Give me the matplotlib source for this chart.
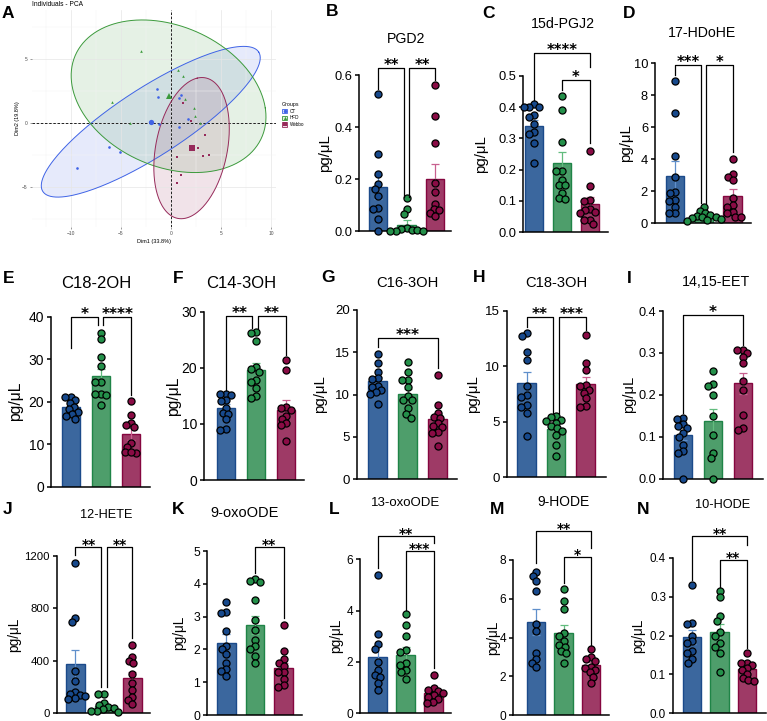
import numpy as np
import matplotlib.pyplot as plt
from matplotlib.patches import Patch
from matplotlib.lines import Line2D
from matplotlib.legend_handler import HandlerTuple
from matplotlib.ticker import FormatStrFormatter

plt.rcParams['font.family'] = ['Liberation Sans', 'DejaVu Sans']

W, H = 767, 721

# ---------------- panel A: PCA individuals ----------------
ct_x = [-1.4, -1.27, -1.2, 0.77, 1.03, 1.7, 0.77, -6.2, -5.07, -9.37]
ct_y = [2.66, 2.08, -0.05, 1.98, 2.19, 0.31, -0.31, -1.88, -2.24, -3.52]
hfd_x = [-3.03, 0.7, 1.23, 1.37, -5.87, 2.27, 2.37, -4.13, 2.9]
hfd_y = [5.68, 4.19, 3.72, 1.93, 1.69, 1.2, 0.55, 0.05, 0.0]
web_x = [1.23, 2.03, 3.4, 2.73, 3.77, 3.17, 0.57, 0.97, 0.63]
web_y = [1.59, 0.16, -0.91, -1.95, -2.45, -2.58, -2.63, -4.04, -4.64]
# ellipse semi-axis vectors (data units)
ct_ell = [(10.8, 5.44), (1.8, -2.25)]
hfd_ell = [(9.67, -0.91), (-1.17, 5.89)]
web_ell = [(0.57, 5.47), (3.73, 0.7)]
pca_groups = ['CT', 'HFD', 'Webbo']

# ---------------- bar panels ----------------
pgd2_ct = [0.526, 0.296, 0.219, 0.179, 0.16, 0.135, 0.09, 0.083, 0.045, 0.001]
pgd2_hfd = [0.126, 0.083, 0.064, 0.01, 0.006, 0.004, 0.002, 0.001, 0.0, 0.0]
pgd2_web = [0.562, 0.444, 0.34, 0.183, 0.151, 0.104, 0.083, 0.08, 0.068, 0.059]
pgd2_mean = [0.17, 0.023, 0.2]
pgd2_sem = [0.045, 0.018, 0.058]
pgd2_sig = [(0, 0.91, 0.626, 0.545, 0.132, '**'), (1.09, 2, 0.626, 0.132, 0.58, '**')]

pgj2_ct = [0.41, 0.40, 0.40, 0.40, 0.375, 0.37, 0.345, 0.32, 0.315, 0.285, 0.22]
pgj2_hfd = [0.436, 0.391, 0.29, 0.194, 0.194, 0.167, 0.151, 0.151, 0.125, 0.109, 0.107]
pgj2_web = [0.261, 0.149, 0.103, 0.1, 0.074, 0.07, 0.065, 0.06, 0.04, 0.04, 0.025]
pgj2_mean = [0.34, 0.22, 0.09]
pgj2_sem = [0.018, 0.035, 0.021]
pgj2_sig = [(0, 2, 0.573, 0.423, 0.53, '****'), (1, 2, 0.487, 0.455, 0.284, '*')]

hdohe_ct = [8.9, 6.9, 4.2, 2.85, 1.95, 1.85, 1.45, 1.4, 1.0, 0.65, 0.6]
hdohe_hfd = [1.0, 0.75, 0.65, 0.5, 0.45, 0.4, 0.35, 0.3, 0.25, 0.2, 0.15]
hdohe_web = [4.0, 3.05, 2.9, 2.7, 1.55, 1.1, 1.0, 0.7, 0.6, 0.4, 0.35]
hdohe_mean = [2.94, 0.48, 1.7]
hdohe_sem = [0.92, 0.08, 0.45]
hdohe_sig = [(0, 0.91, 9.875, 9.25, 1.25, '***'), (1.09, 2, 9.875, 1.25, 4.46, '*')]

c182_ct = [21.2, 21.0, 20.3, 19.6, 18.7, 18.2, 17.6, 17.0, 16.6, 16.0]
c182_hfd = [36.2, 34.7, 30.5, 28.5, 24.7, 24.5, 21.9, 21.7, 21.5, 19.2]
c182_web = [20.2, 16.8, 15.0, 14.5, 13.9, 10.2, 9.4, 8.1, 7.8, 8.2]
c182_mean = [18.65, 26.0, 12.4]
c182_sem = [0.6, 1.6, 1.35]
c182_sig = [(0, 0.9, 40, 32.6, 38, '*'), (1.08, 2, 40, 38, 21.5, '****')]

c143_ct = [15.4, 15.3, 15.2, 14.2, 14.0, 12.8, 12.0, 11.8, 10.9, 9.1, 9.0]
c143_hfd = [26.4, 26.2, 24.7, 20.1, 19.8, 19.3, 17.9, 17.5, 16.4, 15.0, 14.6]
c143_web = [21.4, 19.6, 13.0, 12.8, 12.5, 11.4, 10.8, 10.2, 9.8, 6.9]
c143_mean = [12.8, 19.6, 12.4]
c143_sem = [0.75, 1.3, 1.9]
c143_sig = [(0, 0.88, 29.2, 16.0, 27.1, '**'), (1.07, 2, 29.2, 27.1, 22.3, '**')]

c163_ct = [14.8, 13.7, 12.7, 11.9, 11.8, 11.0, 10.9, 10.5, 10.3, 10.1, 8.9]
c163_hfd = [13.9, 12.7, 11.7, 11.7, 10.85, 9.8, 9.35, 9.35, 8.35, 7.7, 7.25]
c163_web = [12.3, 8.8, 7.8, 7.3, 7.2, 6.6, 6.3, 6.2, 5.6, 5.5, 3.9]
c163_mean = [11.55, 10.05, 7.05]
c163_sem = [0.5, 0.6, 0.6]
c163_sig = [(0, 2, 16.72, 15.66, 13.1, '***')]

c183_ct = [13.0, 12.7, 11.3, 10.6, 8.2, 7.4, 7.2, 6.5, 6.3, 5.8, 3.7]
c183_hfd = [5.5, 5.4, 5.2, 5.1, 4.9, 4.6, 4.4, 4.2, 3.8, 2.9, 1.9]
c183_web = [12.8, 10.3, 9.7, 8.3, 8.2, 7.9, 7.6, 7.1, 6.4, 6.3]
c183_mean = [8.5, 4.32, 8.4]
c183_sem = [1.0, 0.33, 0.6]
c183_sig = [(0, 0.9, 14.47, 13.57, 5.77, '**'), (1.09, 2, 14.47, 5.77, 13.27, '***')]

eet_ct = [0.145, 0.143, 0.13, 0.125, 0.12, 0.11, 0.1, 0.08, 0.065, 0.062, 0.0]
eet_hfd = [0.256, 0.225, 0.22, 0.2, 0.15, 0.105, 0.062, 0.05, 0.0]
eet_web = [0.308, 0.307, 0.3, 0.29, 0.275, 0.232, 0.212, 0.152, 0.12, 0.115]
eet_mean = [0.103, 0.137, 0.227]
eet_sem = [0.012, 0.028, 0.025]
eet_sig = [(0, 2, 0.39, 0.156, 0.319, '*')]

hete_ct = [1150, 730, 700, 320, 245, 165, 150, 140, 130, 115, 110]
hete_hfd = [148, 145, 75, 60, 45, 40, 30, 20, 15, 10]
hete_web = [520, 430, 400, 380, 300, 230, 180, 125, 105, 70]
hete_mean = [374, 56, 267]
hete_sem = [110, 20, 50]
hete_sig = [(0, 0.91, 1266, 1207, 203, '**'), (1.09, 2, 1266, 203, 572, '**')]

oxo9_ct = [3.45, 3.15, 3.1, 2.55, 2.1, 2.0, 1.85, 1.6, 1.4, 1.35, 1.2]
oxo9_hfd = [4.15, 4.1, 4.05, 3.5, 2.9, 2.6, 2.3, 2.1, 2.0, 1.8, 1.6]
oxo9_web = [2.75, 1.95, 1.7, 1.6, 1.5, 1.3, 1.3, 1.1, 0.9, 0.85]
oxo9_mean = [2.2, 2.75, 1.42]
oxo9_sem = [0.26, 0.28, 0.17]
oxo9_sig = [(1, 2, 5.11, 4.32, 2.95, '**')]

oxo13_ct = [5.4, 3.1, 2.7, 2.5, 2.0, 1.7, 1.5, 1.4, 1.2, 0.9]
oxo13_hfd = [3.85, 3.45, 3.0, 2.45, 2.4, 1.95, 1.9, 1.7, 1.6, 1.35]
oxo13_web = [1.5, 0.98, 0.92, 0.85, 0.8, 0.7, 0.65, 0.55, 0.45, 0.4]
oxo13_mean = [2.21, 2.27, 0.8]
oxo13_sem = [0.43, 0.33, 0.1]
oxo13_sig = [(0, 2, 6.92, 5.65, 6.62, '**'), (1, 2, 6.33, 4.02, 1.75, '***')]

hode9_ct = [7.4, 7.15, 6.9, 6.4, 4.7, 4.35, 3.2, 2.9, 2.7, 2.5]
hode9_hfd = [6.5, 5.9, 5.45, 4.25, 4.1, 3.8, 3.6, 3.5, 3.3, 3.2, 2.7]
hode9_web = [3.4, 3.0, 2.9, 2.8, 2.5, 2.45, 2.3, 2.2, 1.95, 1.65]
hode9_mean = [4.8, 4.22, 2.58]
hode9_sem = [0.65, 0.42, 0.17]
hode9_sig = [(0, 2, 9.5, 7.83, 8.6, '**'), (1, 2, 8.14, 6.8, 3.61, '*')]

hode10_ct = [0.33, 0.233, 0.23, 0.2, 0.185, 0.18, 0.16, 0.155, 0.14, 0.13]
hode10_hfd = [0.315, 0.3, 0.25, 0.237, 0.21, 0.2, 0.18, 0.17, 0.155, 0.105]
hode10_web = [0.155, 0.13, 0.128, 0.125, 0.115, 0.11, 0.1, 0.09, 0.085, 0.083]
hode10_mean = [0.195, 0.209, 0.114]
hode10_sem = [0.018, 0.02, 0.007]
hode10_sig = [(0, 2, 0.458, 0.343, 0.434, '**'), (1, 2, 0.395, 0.326, 0.167, '**')]

# colours
bar_fill = ['#3B679E', '#4E9E6B', '#9E3A66']
bar_edge = ['#1B4A8A', '#1F8447', '#85063F']
dot_col = ['#17498C', '#24904A', '#8A0C45']
err_col = ['#5F8FCB', '#62BC7E', '#C8608F']
pca_col = ['#3F63E6', '#3C9A3C', '#962A5A']

fig = plt.figure(figsize=(W / 100, H / 100), dpi=100)


def px_axes(left, right, y0, ytop):
    return fig.add_axes([left / W, 1 - y0 / H, (right - left) / W, (y0 - ytop) / H])


def ftext(x, y, s, **kw):
    fig.text(x / W, 1 - y / H, s, **kw)


def swarm(vals, yscale, d):
    vals = np.asarray(vals, dtype=float)
    placed = []
    offs = np.zeros(len(vals))
    for i in np.argsort(-vals, kind='stable'):
        y = vals[i] * yscale
        cands = [0.0]
        blocks = []
        for px, py in placed:
            dy = abs(py - y)
            if dy < d:
                dx = np.sqrt(d * d - dy * dy)
                blocks.append((px - dx, px + dx))
                cands += [px - dx, px + dx]
        cands.sort(key=lambda c: (abs(c), c))
        pick = 0.0
        for c in cands:
            if all(not (lo + 1e-6 < c < hi - 1e-6) for lo, hi in blocks):
                pick = c
                break
        offs[i] = pick
        placed.append((pick, y))
    return offs


def bar_panel(box, c0, sp, ymax, step, fmt, fs, groups, means, sems, sigs, star_fs):
    left, right, y0, ytop = box
    ax = px_axes(left, right, y0, ytop)
    ax.set_xlim(-(c0 - left) / sp, (right - c0) / sp)
    ax.set_ylim(0, ymax)
    yscale = (y0 - ytop) / ymax
    xs = np.arange(3)
    ax.bar(xs, means, width=18.5 / sp, color=bar_fill, edgecolor=bar_edge,
           linewidth=1.0, zorder=1)
    for i in range(3):
        ax.errorbar(i, means[i], yerr=sems[i], color=err_col[i], lw=0.9,
                    capsize=3.2, capthick=0.9, zorder=2)
        offs = swarm(groups[i], yscale, 5.6)
        ax.scatter(i + offs / sp, groups[i], s=26, facecolor=dot_col[i],
                   edgecolor='black', linewidth=0.9, zorder=3, clip_on=False)
    for x1, x2, top, b1, b2, lab in sigs:
        ax.plot([x1, x1, x2, x2], [b1, top, top, b2], color='black', lw=0.9,
                clip_on=False, zorder=4)
        ax.annotate(lab, ((x1 + x2) / 2, top), xytext=(0, -1.5),
                    textcoords='offset points', ha='center', va='baseline',
                    fontsize=star_fs, fontweight='bold', family='DejaVu Sans',
                    annotation_clip=False)
    for s in ['top', 'right']:
        ax.spines[s].set_visible(False)
    for s in ['left', 'bottom']:
        ax.spines[s].set_linewidth(1.1)
    ax.set_yticks(np.arange(0, ymax + step / 2, step))
    ax.yaxis.set_major_formatter(FormatStrFormatter(fmt))
    ax.set_xticks([])
    ax.tick_params(axis='y', length=3, width=1.1, labelsize=fs, pad=2)
    return ax


# ---------------- draw panel A ----------------
axA = px_axes(32, 276, 227, 10)
axA.set_xlim(-13.9, 10.5)
axA.set_ylim(-8.1, 8.85)
axA.set_xticks([-10, -5, 0, 5, 10])
axA.set_yticks([-5, 0, 5])
axA.set_xticks(np.arange(-12.5, 10.1, 2.5), minor=True)
axA.set_yticks([-7.5, -2.5, 2.5, 7.5], minor=True)
axA.grid(True, which='major', color='#E6E6E6', lw=0.5)
axA.grid(True, which='minor', color='#F3F3F3', lw=0.35)
axA.set_axisbelow(True)
for s in axA.spines.values():
    s.set_visible(False)
axA.tick_params(which='both', length=0, labelsize=3.5, colors='#4D4D4D', pad=2)
axA.tick_params(which='major', length=1.2, width=0.4, color='#4D4D4D')
axA.axhline(0, color='black', lw=0.6, ls=(0, (3, 2)), zorder=1)
axA.axvline(0, color='black', lw=0.6, ls=(0, (3, 2)), zorder=1)
t = np.linspace(0, 2 * np.pi, 240)
pca_pts = [(ct_x, ct_y, 'o', ct_ell), (hfd_x, hfd_y, '^', hfd_ell), (web_x, web_y, 's', web_ell)]
for (gx, gy, mk, ell), col in zip(pca_pts, pca_col):
    cx, cy = np.mean(gx), np.mean(gy)
    (ux, uy), (vx, vy) = ell
    ex = cx + ux * np.cos(t) + vx * np.sin(t)
    ey = cy + uy * np.cos(t) + vy * np.sin(t)
    axA.fill(ex, ey, color=col, alpha=0.13, lw=0, zorder=0.5)
    axA.plot(ex, ey, color=col, lw=0.7, zorder=2)
for (gx, gy, mk, ell), col in zip(pca_pts, pca_col):
    axA.plot(gx, gy, mk, color=col, ms=1.9, mew=0, zorder=3)
    axA.plot(np.mean(gx), np.mean(gy), mk, color=col, ms=3.8, mew=0, zorder=3)
axA.set_xlabel('Dim1 (33.8%)', fontsize=4, labelpad=1.5)
axA.set_ylabel('Dim2 (19.8%)', fontsize=4, labelpad=1.5)
ftext(32, 5, 'Individuals - PCA', fontsize=4.8, ha='left', va='center')

handles = []
for (gx, gy, mk, ell), col in zip(pca_pts, pca_col):
    handles.append((Patch(facecolor=col, alpha=0.15, edgecolor='none'),
                    Patch(facecolor='none', edgecolor=col, lw=0.6),
                    Line2D([], [], marker=mk, color=col, ls='none', ms=2.6, mew=0)))
fig.legend(handles, pca_groups, handler_map={tuple: HandlerTuple(ndivide=1, pad=0)},
           loc='upper left', bbox_to_anchor=(279 / W, 1 - 99 / H), frameon=False,
           title='Groups', title_fontsize=3.8, fontsize=3.3, handlelength=1.1,
           handleheight=1.1, labelspacing=0.35, handletextpad=0.6, alignment='left',
           borderpad=0.2)

# ---------------- bar panels ----------------
panels = [
    # box (left, right, y0, ytop), first bar centre px, spacing px, ymax, step,
    # fmt, tick fs, star fs, data..., title, title xy, title fs, letter, letter xy,
    # ylabel x, ylabel fs
    ((359, 451, 231, 75), 378, 28.5, 0.6, 0.2, '%.1f', 9.3, 10.5,
     [pgd2_ct, pgd2_hfd, pgd2_web], pgd2_mean, pgd2_sem, pgd2_sig,
     'PGD2', (406, 39), 10.2, 'B', (326, 12), 325, 10.8),
    ((523, 608, 232, 76), 534, 28, 0.5, 0.1, '%.1f', 9.3, 10.5,
     [pgj2_ct, pgj2_hfd, pgj2_web], pgj2_mean, pgj2_sem, pgj2_sig,
     '15d-PGJ2', (563, 24), 10.2, 'C', (482, 13), 481, 10.8),
    ((655, 751, 223, 63), 675, 28.8, 10, 2, '%d', 9.3, 10.5,
     [hdohe_ct, hdohe_hfd, hdohe_web], hdohe_mean, hdohe_sem, hdohe_sig,
     '17-HDoHE', (702, 33), 10.2, 'D', (623, 13), 626, 10.8),
    ((51, 150, 486.5, 316.7), 71, 30, 40, 10, '%d', 10, 11,
     [c182_ct, c182_hfd, c182_web], c182_mean, c182_sem, c182_sig,
     'C18-2OH', (96, 283), 12, 'E', (3, 278), 16, 11.3),
    ((204, 304, 480, 311.7), 226, 30, 30, 10, '%d', 10, 11,
     [c143_ct, c143_hfd, c143_web], c143_mean, c143_sem, c143_sig,
     'C14-3OH', (241, 283), 12, 'F', (173, 278), 174, 11.3),
    ((357, 457, 479, 310), 377.5, 30, 20, 5, '%d', 9.5, 11,
     [c163_ct, c163_hfd, c163_web], c163_mean, c163_sem, c163_sig,
     'C16-3OH', (407, 283), 10.6, 'G', (321, 277), 320, 10.8),
    ((507, 606, 477.3, 310.7), 526.5, 29.5, 15, 5, '%d', 9.5, 11,
     [c183_ct, c183_hfd, c183_web], c183_mean, c183_sem, c183_sig,
     'C18-3OH', (556, 283), 10.6, 'H', (473, 277), 473, 10.8),
    ((663, 763, 478.6, 311), 683, 30, 0.4, 0.1, '%.1f', 9.2, 11,
     [eet_ct, eet_hfd, eet_web], eet_mean, eet_sem, eet_sig,
     '14,15-EET', (716, 282), 10.3, 'I', (627, 278), 629, 10.5),
    ((57, 150, 713.3, 556), 75.5, 28.5, 1200, 400, '%d', 8.2, 10,
     [hete_ct, hete_hfd, hete_web], hete_mean, hete_sem, hete_sig,
     '12-HETE', (106, 515), 9.2, 'J', (3, 510), 14, 9.8),
    ((207, 302, 715, 551), 226.5, 28.5, 5, 1, '%d', 8.8, 10,
     [oxo9_ct, oxo9_hfd, oxo9_web], oxo9_mean, oxo9_sem, oxo9_sig,
     '9-oxoODE', (245, 513), 10.5, 'K', (172, 509), 179, 9.8),
    ((360, 451, 713.3, 559.3), 377.5, 28, 6, 2, '%d', 8.6, 10,
     [oxo13_ct, oxo13_hfd, oxo13_web], oxo13_mean, oxo13_sem, oxo13_sig,
     '13-oxoODE', (406, 503), 9.5, 'L', (329, 510), 336, 9.8),
    ((513, 609, 715, 560), 536, 27.5, 8, 2, '%d', 8.6, 10,
     [hode9_ct, hode9_hfd, hode9_web], hode9_mean, hode9_sem, hode9_sig,
     '9-HODE', (563, 502), 10, 'M', (490, 510), 493, 9.8),
    ((673, 766, 713, 558), 692, 27.5, 0.4, 0.1, '%.1f', 8.4, 10,
     [hode10_ct, hode10_hfd, hode10_web], hode10_mean, hode10_sem, hode10_sig,
     '10-HODE', (723, 505), 9.2, 'N', (637, 510), 638, 9.8),
]

for (box, c0, sp, ymax, step, fmt, fs, star_fs, groups, means, sems, sigs,
     title, title_xy, title_fs, letter, letter_xy, ylab_x, ylab_fs) in panels:
    bar_panel(box, c0, sp, ymax, step, fmt, fs, groups, means, sems, sigs, star_fs)
    ftext(title_xy[0], title_xy[1], title, fontsize=title_fs, ha='center', va='center')
    ftext(letter_xy[0], letter_xy[1], letter, fontsize=12.5, fontweight='bold',
          ha='left', va='center')
    ftext(ylab_x, (box[2] + box[3]) / 2, 'pg/μL', fontsize=ylab_fs, rotation=90,
          ha='center', va='center')

ftext(2, 13, 'A', fontsize=12.5, fontweight='bold', ha='left', va='center')

fig.savefig('out.png', dpi=100)
